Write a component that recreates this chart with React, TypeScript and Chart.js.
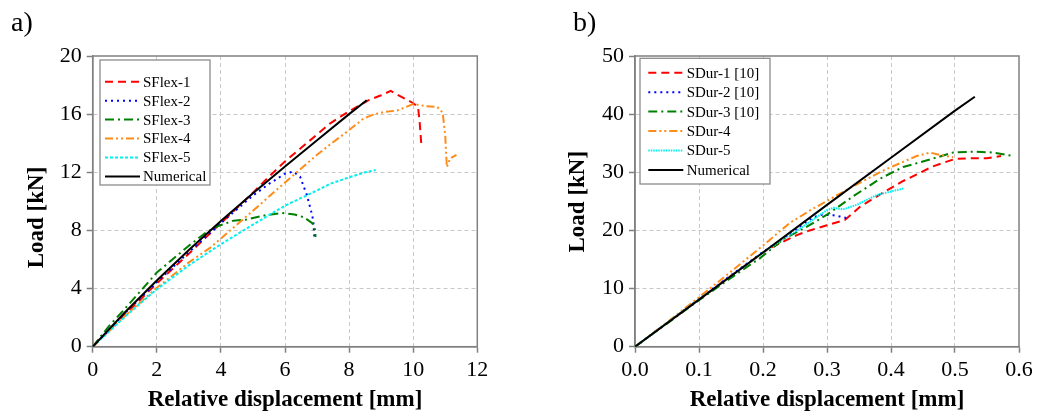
import React, { useEffect, useRef } from "react";
import { Chart, registerables } from "chart.js";

Chart.register(...registerables);

const SERIF = "'Liberation Serif', 'Times New Roman', Times, serif";

type Pt = [number, number];

// ---------- Panel a) SFlex ----------
const aLabels = ["SFlex-1", "SFlex-2", "SFlex-3", "SFlex-4", "SFlex-5", "Numerical"];

const sflex1: Pt[] = [
  [0, 0], [1, 2.2], [2, 4.35], [3, 6.4], [4, 8.5], [5, 10.6], [5.5, 11.7], [6, 12.75],
  [7, 14.6], [7.4, 15.35], [8, 16.2], [8.6, 16.95], [9, 17.3], [9.3, 17.6], [9.5, 17.35],
  [9.8, 17.0], [10.0, 16.75], [10.15, 16.5], [10.2, 15.5], [10.25, 14.0],
];
const sflex2: Pt[] = [
  [0, 0], [1, 2.3], [2, 4.45], [3, 6.5], [4, 8.5], [5, 10.4], [5.5, 11.2], [6, 11.9],
  [6.26, 12.05], [6.47, 11.7], [6.68, 10.45], [6.83, 9.2], [6.88, 8.7], [6.92, 7.4],
];
const sflex3: Pt[] = [
  [0, 0], [0.5, 1.4], [1, 2.6], [2, 5.1], [3, 6.95], [3.5, 7.8], [3.87, 8.26], [4.39, 8.67],
  [4.8, 8.75], [5.4, 9.05], [5.9, 9.2], [6.3, 9.1], [6.6, 8.9], [6.85, 8.5], [6.95, 8.0], [6.95, 7.55],
];
const sflex4: Pt[] = [
  [0, 0], [1, 2.1], [2, 4.05], [3, 5.8], [3.66, 6.8], [4, 7.45], [5, 9.35], [6, 11.3],
  [7, 13.2], [7.4, 13.9], [8, 14.9], [8.45, 15.7], [8.8, 16.0], [9.1, 16.15], [9.5, 16.25],
  [10, 16.7], [10.4, 16.55], [10.75, 16.5], [10.92, 16.1], [11.0, 14.5], [11.05, 12.35],
  [11.15, 12.95], [11.35, 13.2],
];
const sflex5: Pt[] = [
  [0, 0], [1, 2.05], [2, 3.95], [3, 5.6], [4, 7.05], [5, 8.4], [6, 9.7], [7, 10.75],
  [7.4, 11.2], [8, 11.65], [8.5, 12.0], [8.83, 12.15],
];
const numericalA: Pt[] = [
  [0, 0], [1, 2.35], [2, 4.55], [3, 6.65], [4, 8.65], [5, 10.55], [6, 12.4], [7, 14.2],
  [8, 16.0], [8.55, 16.95],
];

// ---------- Panel b) SDur ----------
const bLabels = ["SDur-1 [10]", "SDur-2 [10]", "SDur-3 [10]", "SDur-4", "SDur-5", "Numerical"];

const sdur1: Pt[] = [
  [0, 0], [0.1, 8.1], [0.15, 12.2], [0.2, 16.2], [0.21, 16.9], [0.23, 18.0], [0.253, 19.2],
  [0.273, 20.0], [0.3, 20.9], [0.328, 21.8], [0.352, 24.1], [0.383, 26.2], [0.419, 28.5],
  [0.445, 29.9], [0.465, 31.0], [0.5, 32.3], [0.52, 32.4], [0.55, 32.4], [0.572, 32.8],
];
const sdur2: Pt[] = [
  [0, 0], [0.1, 8.2], [0.15, 12.3], [0.2, 16.3], [0.25, 20.0], [0.268, 21.5], [0.28, 22.3],
  [0.292, 22.7], [0.31, 22.6], [0.32, 22.4], [0.331, 22.1],
];
const sdur3: Pt[] = [
  [0, 0], [0.1, 8.0], [0.164, 12.9], [0.195, 15.2], [0.232, 18.5], [0.268, 20.6], [0.3, 22.7],
  [0.34, 25.8], [0.383, 28.9], [0.419, 30.9], [0.461, 32.2], [0.497, 33.4], [0.529, 33.55],
  [0.56, 33.4], [0.591, 32.8],
];
const sdur4: Pt[] = [
  [0, 0], [0.05, 4.2], [0.1, 8.5], [0.143, 12.3], [0.2, 17.4], [0.242, 21.3], [0.273, 23.4],
  [0.305, 25.4], [0.336, 27.3], [0.36, 28.7], [0.388, 30.3], [0.419, 31.8], [0.44, 32.8],
  [0.461, 33.4], [0.475, 33.0], [0.497, 32.6],
];
const sdur5: Pt[] = [
  [0, 0], [0.1, 8.2], [0.2, 16.2], [0.25, 19.8], [0.275, 21.6], [0.3, 23.5], [0.31, 23.9],
  [0.325, 23.6], [0.346, 24.4], [0.378, 26.1], [0.4, 26.7], [0.419, 27.2],
];
const numericalB: Pt[] = [
  [0, 0], [0.1, 8.1], [0.2, 16.2], [0.3, 24.4], [0.4, 32.5], [0.5, 40.6], [0.531, 43.0],
];

const colors = ["#ff0000", "#0000ff", "#008000", "#ff8c1a", "#00f0f0", "#000000"];
const aDashes = [[8, 5], [2, 4], [9, 4, 2, 4], [8, 3, 2, 3, 2, 3], [3, 2], []];
const bDashes = [[8, 5], [2, 4], [9, 4, 2, 4], [8, 3, 2, 3, 2, 3], [1.5, 1], []];

interface PanelDef {
  labels: string[];
  series: Pt[][];
  dashes: number[][];
  xMax: number;
  xStep: number;
  xDecimals: number;
  yMax: number;
  yStep: number;
  yAxisWidth: number;
  padRight: number;
  yTitle: { x: number; y: number };
  legend: { x: number; y: number; w: number; h: number; row0: number; rowGap: number; lx1: number; lx2: number; tx: number };
}

const panelA: PanelDef = {
  labels: aLabels,
  series: [sflex1, sflex2, sflex3, sflex4, sflex5, numericalA],
  dashes: aDashes,
  xMax: 12, xStep: 2, xDecimals: 0,
  yMax: 20, yStep: 4,
  yAxisWidth: 92.7,
  padRight: 40.7,
  yTitle: { x: 37.5, y: 217.5 },
  legend: { x: 100, y: 60, w: 110, h: 125, row0: 81.7, rowGap: 18.95, lx1: 105, lx2: 140, tx: 143 },
};

const panelB: PanelDef = {
  labels: bLabels,
  series: [sdur1, sdur2, sdur3, sdur4, sdur5, numericalB],
  dashes: bDashes,
  xMax: 0.6, xStep: 0.1, xDecimals: 1,
  yMax: 50, yStep: 10,
  yAxisWidth: 117,
  padRight: 18,
  yTitle: { x: 60.3, y: 201.7 },
  legend: { x: 122, y: 58.3, w: 130, h: 125.7, row0: 72.7, rowGap: 19.45, lx1: 130.3, lx2: 165.3, tx: 168.7 },
};

const GRID = "#c8c8c8";
const AXIS = "#808080";

function makeConfig(p: PanelDef): any {
  const n = p.series.length;
  const datasets = p.series.map((pts, i) => ({
    label: p.labels[i],
    data: pts.map(([x, y]) => ({ x, y })),
    borderColor: colors[i],
    backgroundColor: colors[i],
    borderWidth: 2,
    borderDash: p.dashes[i],
    pointRadius: 0,
    showLine: true,
    tension: 0,
    fill: false,
    order: n - 1 - i,
  }));

  const edgeColor = (max: number) => (ctx: any) => {
    const v = ctx.tick ? ctx.tick.value : 0;
    return Math.abs(v) < 1e-9 || Math.abs(v - max) < 1e-9 ? "rgba(0,0,0,0)" : GRID;
  };

  const decor = {
    id: "decor",
    beforeDatasetsDraw(chart: any) {
      const { ctx, chartArea: a } = chart;
      ctx.save();
      ctx.strokeStyle = AXIS;
      ctx.lineWidth = 1.5;
      ctx.strokeRect(a.left, a.top, a.right - a.left, a.bottom - a.top);
      ctx.restore();
    },
    afterDatasetsDraw(chart: any) {
      const { ctx } = chart;
      const L = p.legend;
      ctx.save();
      ctx.fillStyle = "#ffffff";
      ctx.fillRect(L.x, L.y, L.w, L.h);
      ctx.strokeStyle = "#8c8c8c";
      ctx.lineWidth = 1.3;
      ctx.strokeRect(L.x, L.y, L.w, L.h);
      ctx.font = `15px ${SERIF}`;
      ctx.textBaseline = "middle";
      ctx.textAlign = "left";
      p.labels.forEach((lab, i) => {
        const y = L.row0 + i * L.rowGap;
        ctx.setLineDash(p.dashes[i]);
        ctx.strokeStyle = colors[i];
        ctx.lineWidth = 2;
        ctx.beginPath();
        ctx.moveTo(L.lx1, y);
        ctx.lineTo(L.lx2, y);
        ctx.stroke();
        ctx.setLineDash([]);
        ctx.fillStyle = "#000";
        ctx.fillText(lab, L.tx, y + 1);
      });
      ctx.restore();
    },
    afterDraw(chart: any) {
      const { ctx } = chart;
      ctx.save();
      ctx.translate(p.yTitle.x, p.yTitle.y);
      ctx.rotate(-Math.PI / 2);
      ctx.font = `bold 23px ${SERIF}`;
      ctx.fillStyle = "#000";
      ctx.textAlign = "center";
      ctx.textBaseline = "middle";
      ctx.fillText("Load [kN]", 0, 0);
      ctx.restore();
    },
  };

  return {
    type: "scatter",
    data: { datasets },
    plugins: [decor],
    options: {
      responsive: false,
      animation: false,
      events: [],
      layout: { padding: { left: 0, right: p.padRight, top: 56, bottom: 0 } },
      plugins: { legend: { display: false }, tooltip: { enabled: false } },
      scales: {
        x: {
          type: "linear",
          min: 0,
          max: p.xMax,
          afterFit: (s: any) => { s.height = 416 - 346.7; },
          ticks: {
            stepSize: p.xStep,
            color: "#000",
            font: { family: SERIF, size: 22 },
            padding: 4,
            maxRotation: 0,
            callback: (v: number) => Number(v).toFixed(p.xDecimals),
          },
          grid: { color: edgeColor(p.xMax), lineWidth: 1, tickColor: AXIS, tickLength: 6, tickWidth: 1.5 },
          border: { color: AXIS, width: 1.5, dash: [4, 3] },
          title: {
            display: true,
            text: "Relative displacement [mm]",
            color: "#000",
            font: { family: SERIF, size: 23, weight: "bold" },
            padding: { top: 0, bottom: 2 },
          },
        },
        y: {
          type: "linear",
          min: 0,
          max: p.yMax,
          afterFit: (s: any) => { s.width = p.yAxisWidth; },
          ticks: {
            stepSize: p.yStep,
            color: "#000",
            font: { family: SERIF, size: 22 },
            padding: 5,
          },
          grid: { color: edgeColor(p.yMax), lineWidth: 1, tickColor: AXIS, tickLength: 6, tickWidth: 1.5 },
          border: { color: AXIS, width: 1.5, dash: [4, 3] },
          title: { display: false },
        },
      },
    },
  };
}

export default function App() {
  const refA = useRef<HTMLCanvasElement>(null);
  const refB = useRef<HTMLCanvasElement>(null);

  useEffect(() => {
    const ca = new Chart(refA.current as HTMLCanvasElement, makeConfig(panelA));
    const cb = new Chart(refB.current as HTMLCanvasElement, makeConfig(panelB));
    return () => {
      ca.destroy();
      cb.destroy();
    };
  }, []);

  const panelLabel: React.CSSProperties = {
    position: "absolute",
    top: 8,
    font: `28px ${SERIF}`,
    lineHeight: 1,
    color: "#000",
  };

  return (
    <div style={{ position: "absolute", left: 0, top: 0, width: 1037, height: 416, background: "#fff", overflow: "hidden" }}>
      <canvas ref={refA} width={518} height={416} style={{ position: "absolute", left: 0, top: 0, width: 518, height: 416 }} />
      <canvas ref={refB} width={519} height={416} style={{ position: "absolute", left: 518, top: 0, width: 519, height: 416 }} />
      <div style={{ ...panelLabel, left: 11 }}>a)</div>
      <div style={{ ...panelLabel, left: 573 }}>b)</div>
    </div>
  );
}
